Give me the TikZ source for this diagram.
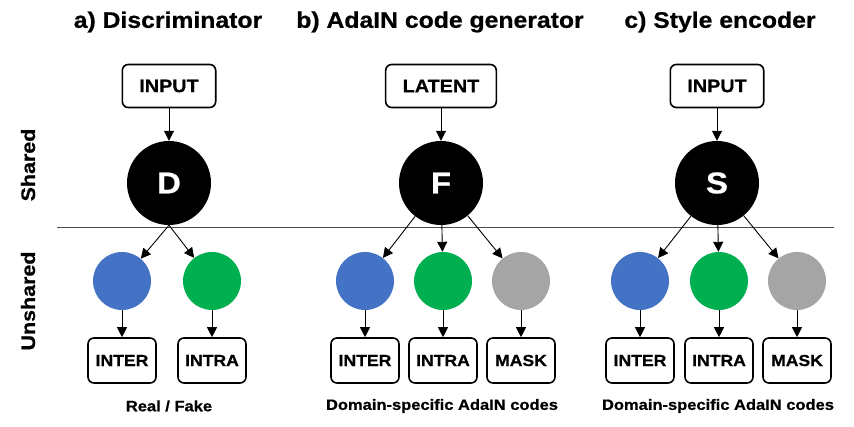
\documentclass[tikz,border=0pt]{standalone}
\usepackage{fontspec}
\setmainfont{Liberation Sans}[FakeStretch=1.1, BoldFeatures={FakeBold=0.7}]
\usepackage{tikz}
\usetikzlibrary{positioning,arrows.meta}

\definecolor{interblue}{HTML}{4472C4}
\definecolor{intragreen}{HTML}{00B050}
\definecolor{maskgrey}{HTML}{A5A5A5}

\begin{document}
\begin{tikzpicture}[
x=1pt, y=-1pt,
node distance=27pt,
title/.style={font=\fontsize{22.5}{26}\selectfont\bfseries},
inbox/.style={draw, rounded corners=6pt, line width=1.6pt, minimum height=43pt, inner xsep=17pt, font=\fontsize{18}{21}\selectfont\bfseries},
outbox/.style={draw, rounded corners=6pt, line width=1.6pt, minimum height=45pt, minimum width=68pt, inner xsep=4pt, font=\fontsize{16}{19}\selectfont\bfseries},
net/.style={circle, fill=black, minimum size=84pt, inner sep=0pt, text=white, font=\fontsize{30}{34}\selectfont\bfseries},
head/.style={circle, minimum size=58pt, inner sep=0pt},
side/.style={rotate=90, font=\fontsize{19.5}{23}\selectfont\bfseries},
caption/.style={font=\fontsize{15}{18}\selectfont\bfseries},
arrow/.style={-{Triangle[length=10pt,width=10pt]}, line width=0.9pt}
]
\useasboundingbox (0,0) rectangle (854,427);

% side labels and divider
\node[side] (shared) at (28,165) {Shared};
\node[side] (unshared) at (28,301) {Unshared};
\draw[line width=0.9pt, black!70] (57,227) -- (834,227);

% a) discriminator
\node[title] (ta) at (168,22) {a) Discriminator};
\node[inbox] (inA) at (169,86) {INPUT};
\node[net] (D) at (169,183) {D};
\node[head, fill=interblue] (aInter) at (122,281) {};
\node[head, fill=intragreen] (aIntra) at (212,281) {};
\node[outbox, below=of aInter] (aInterOut) {INTER};
\node[outbox, below=of aIntra] (aIntraOut) {INTRA};
\node[caption] (capA) at (169,406) {Real / Fake};
\draw[arrow] (inA) -- (D);
\draw[arrow] (D.south) -- (aInter);
\draw[arrow] (D.south) -- (aIntra);
\draw[arrow] (aInter) -- (aInterOut);
\draw[arrow] (aIntra) -- (aIntraOut);

% b) AdaIN code generator
\node[title] (tb) at (440,22) {b) AdaIN code generator};
\node[inbox] (inB) at (441,86) {LATENT};
\node[net] (F) at (441,183) {F};
\node[head, fill=interblue] (bInter) at (365,281) {};
\node[head, fill=intragreen] (bIntra) at (443,281) {};
\node[head, fill=maskgrey] (bMask) at (521,281) {};
\node[outbox, below=of bInter] (bInterOut) {INTER};
\node[outbox, below=of bIntra] (bIntraOut) {INTRA};
\node[outbox, below=of bMask] (bMaskOut) {MASK};
\node[caption] (capB) at (442,406) {Domain-specific AdaIN codes};
\draw[arrow] (inB) -- (F);
\draw[arrow] (F) -- (bInter);
\draw[arrow] (F) -- (bIntra);
\draw[arrow] (F) -- (bMask);
\draw[arrow] (bInter) -- (bInterOut);
\draw[arrow] (bIntra) -- (bIntraOut);
\draw[arrow] (bMask) -- (bMaskOut);

% c) style encoder
\node[title] (tc) at (720,22) {c) Style encoder};
\node[inbox] (inC) at (717,86) {INPUT};
\node[net] (S) at (717,183) {S};
\node[head, fill=interblue] (cInter) at (640,281) {};
\node[head, fill=intragreen] (cIntra) at (719,281) {};
\node[head, fill=maskgrey] (cMask) at (797,281) {};
\node[outbox, below=of cInter] (cInterOut) {INTER};
\node[outbox, below=of cIntra] (cIntraOut) {INTRA};
\node[outbox, below=of cMask] (cMaskOut) {MASK};
\node[caption] (capC) at (718,406) {Domain-specific AdaIN codes};
\draw[arrow] (inC) -- (S);
\draw[arrow] (S) -- (cInter);
\draw[arrow] (S) -- (cIntra);
\draw[arrow] (S) -- (cMask);
\draw[arrow] (cInter) -- (cInterOut);
\draw[arrow] (cIntra) -- (cIntraOut);
\draw[arrow] (cMask) -- (cMaskOut);
\end{tikzpicture}
\end{document}
